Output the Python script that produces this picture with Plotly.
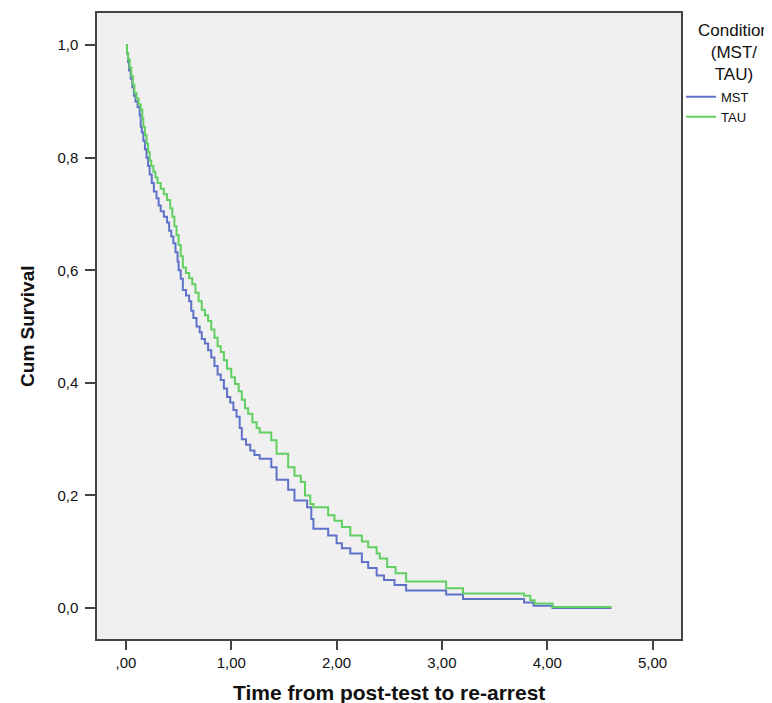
import plotly.graph_objects as go

# Kaplan-Meier step knots (time, cumulative survival)
mst_time = [0.00, 0.01, 0.02, 0.03, 0.045, 0.06, 0.075, 0.09, 0.11, 0.13, 0.14, 0.15, 0.165, 0.18,
            0.195, 0.21, 0.225, 0.245, 0.265, 0.29, 0.31, 0.33, 0.36, 0.39, 0.41, 0.43, 0.45, 0.47,
            0.49, 0.50, 0.52, 0.54, 0.57, 0.60, 0.62, 0.64, 0.67, 0.70, 0.72, 0.75, 0.78, 0.81, 0.84,
            0.87, 0.90, 0.93, 0.96, 0.99, 1.02, 1.05, 1.08, 1.10, 1.14, 1.18, 1.22, 1.27, 1.38, 1.43,
            1.54, 1.60, 1.72, 1.76, 1.78, 1.92, 2.00, 2.05, 2.13, 2.24, 2.30, 2.38, 2.45, 2.55, 2.66,
            3.04, 3.20, 3.78, 3.87, 4.05, 4.61]
mst_surv = [1.000, 0.985, 0.970, 0.955, 0.940, 0.925, 0.910, 0.900, 0.890, 0.875, 0.855, 0.845, 0.830,
            0.815, 0.800, 0.785, 0.770, 0.755, 0.740, 0.728, 0.715, 0.705, 0.695, 0.685, 0.670, 0.660,
            0.648, 0.632, 0.615, 0.600, 0.585, 0.565, 0.555, 0.545, 0.528, 0.515, 0.500, 0.490, 0.478,
            0.470, 0.458, 0.445, 0.430, 0.415, 0.405, 0.390, 0.375, 0.365, 0.352, 0.340, 0.320, 0.300,
            0.290, 0.280, 0.272, 0.265, 0.250, 0.228, 0.210, 0.191, 0.179, 0.158, 0.141, 0.129, 0.115,
            0.106, 0.097, 0.082, 0.071, 0.058, 0.050, 0.041, 0.031, 0.024, 0.016, 0.010, 0.004, 0.000,
            0.000]

tau_time = [0.00, 0.01, 0.02, 0.035, 0.05, 0.065, 0.08, 0.10, 0.12, 0.14, 0.155, 0.165, 0.18, 0.195,
            0.21, 0.225, 0.24, 0.26, 0.28, 0.30, 0.33, 0.36, 0.39, 0.42, 0.44, 0.46, 0.48, 0.50, 0.52,
            0.54, 0.57, 0.60, 0.63, 0.66, 0.69, 0.72, 0.75, 0.78, 0.81, 0.84, 0.87, 0.90, 0.93, 0.96,
            1.00, 1.035, 1.07, 1.10, 1.13, 1.16, 1.20, 1.24, 1.27, 1.38, 1.43, 1.54, 1.60, 1.66, 1.70,
            1.75, 1.78, 1.92, 1.98, 2.05, 2.13, 2.24, 2.30, 2.38, 2.41, 2.48, 2.56, 2.66, 3.04, 3.20,
            3.78, 3.84, 3.88, 4.05, 4.61]
tau_surv = [1.000, 0.985, 0.975, 0.960, 0.945, 0.930, 0.915, 0.905, 0.895, 0.885, 0.870, 0.855, 0.840,
            0.825, 0.810, 0.795, 0.785, 0.775, 0.765, 0.755, 0.745, 0.735, 0.725, 0.710, 0.695, 0.678,
            0.662, 0.645, 0.625, 0.605, 0.595, 0.586, 0.575, 0.560, 0.545, 0.530, 0.520, 0.510, 0.495,
            0.480, 0.465, 0.455, 0.440, 0.425, 0.410, 0.398, 0.385, 0.370, 0.355, 0.345, 0.330, 0.320,
            0.312, 0.298, 0.274, 0.250, 0.235, 0.224, 0.200, 0.185, 0.179, 0.165, 0.155, 0.144, 0.129,
            0.118, 0.108, 0.097, 0.088, 0.073, 0.062, 0.047, 0.035, 0.026, 0.022, 0.014, 0.008, 0.002,
            0.002]

x_tickvals = [0, 1, 2, 3, 4, 5]
x_ticktext = [",00", "1,00", "2,00", "3,00", "4,00", "5,00"]
y_tickvals = [0.0, 0.2, 0.4, 0.6, 0.8, 1.0]
y_ticktext = ["0,0", "0,2", "0,4", "0,6", "0,8", "1,0"]

FONT = "Liberation Sans, Arial, sans-serif"

fig = go.Figure()
fig.add_trace(go.Scatter(x=mst_time, y=mst_surv, mode="lines", name="MST",
                         line=dict(color="#6072c8", width=2, shape="hv")))
fig.add_trace(go.Scatter(x=tau_time, y=tau_surv, mode="lines", name="TAU",
                         line=dict(color="#62cf62", width=2, shape="hv")))

# the page body has an 8px margin, so the figure is sized to fit the window from there
fig.update_layout(
    width=764, height=695,
    margin=dict(l=89, r=91, t=3, b=64),
    paper_bgcolor="white", plot_bgcolor="#f0f0f0",
    font=dict(family=FONT, size=13, color="#111"),
    showlegend=True,
    legend=dict(x=1.0, y=0.89, xanchor="left", yanchor="top",
                bgcolor="rgba(0,0,0,0)", font=dict(size=13, family=FONT),
                itemwidth=30, tracegroupgap=0),
    annotations=[
        dict(text="Condition<br>(MST/<br>TAU)", xref="paper", yref="paper",
             x=1.09, y=0.99, xanchor="center", yanchor="top", showarrow=False,
             font=dict(size=17, family=FONT, color="#111"), align="center"),
        dict(text="<b>Time from post-test to re-arrest</b>", xref="paper", yref="paper",
             x=0.5, y=-0.086, xanchor="center", yanchor="middle", showarrow=False,
             font=dict(size=21, family=FONT, color="#111")),
        dict(text="<b>Cum Survival</b>", xref="paper", yref="paper",
             x=-0.12, y=0.5, xanchor="center", yanchor="middle", showarrow=False,
             textangle=-90, font=dict(size=19, family=FONT, color="#111")),
    ],
)

fig.update_xaxes(range=[-0.275, 5.27], tickvals=x_tickvals, ticktext=x_ticktext,
                 showgrid=False, zeroline=False, showline=True, mirror=True,
                 linecolor="#444", linewidth=1.5, ticks="outside", ticklen=9,
                 tickcolor="#444", tickwidth=1.5, tickfont=dict(size=15))
fig.update_yaxes(range=[-0.055, 1.057], tickvals=y_tickvals, ticktext=y_ticktext,
                 showgrid=False, zeroline=False, showline=True, mirror=True,
                 linecolor="#444", linewidth=1.5, ticks="outside", ticklen=10,
                 tickcolor="#444", tickwidth=1.5, tickfont=dict(size=15),
                 ticklabelstandoff=4)

fig.write_html("out.html")
